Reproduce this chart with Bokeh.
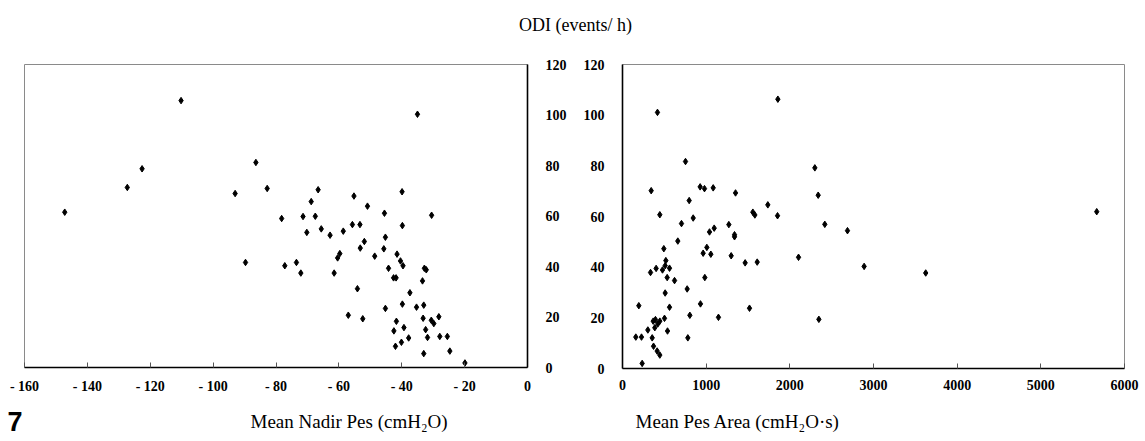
from bokeh.plotting import figure
from bokeh.layouts import column, row
from bokeh.models import Range1d, FixedTicker, Label
from bokeh.embed import file_html
from bokeh.resources import INLINE

# ---- data ----
nadir_pes = [-147.2, -127.3, -122.6, -110.2, -93.0, -86.4, -89.7, -82.8, -78.2, -77.2,
             -73.5, -72.1, -71.4, -70.2, -68.8, -67.5, -66.6, -65.6, -62.8, -61.5,
             -60.4, -59.7, -58.6, -57.0, -55.7, -55.2, -54.1, -53.3, -53.2, -52.4,
             -51.9, -50.9, -48.6, -45.7, -45.5, -45.2, -45.2, -44.2, -42.5, -42.6,
             -41.8, -42.0, -41.7, -41.5, -40.4, -40.1, -39.9, -39.8, -39.6, -39.8,
             -39.3, -37.8, -37.4, -35.3, -35.0, -33.4, -33.0, -33.2, -33.0, -32.8,
             -32.2, -32.4, -31.8, -30.5, -30.6, -29.8, -28.2, -27.9, -25.5, -24.7,
             -19.9]
odi_nadir = [61.5, 71.3, 78.7, 105.7, 68.9, 81.2, 41.6, 70.9, 59.0, 40.3,
             41.6, 37.4, 59.8, 53.5, 65.7, 59.9, 70.4, 54.9, 52.4, 37.4,
             43.4, 45.1, 54.0, 20.7, 56.6, 67.9, 31.2, 56.6, 47.3, 19.3,
             49.9, 63.9, 44.1, 47.0, 61.1, 51.6, 23.4, 39.3, 14.5, 35.5,
             35.5, 8.4, 18.3, 44.9, 42.2, 10.0, 69.6, 56.2, 40.3, 25.1,
             15.8, 11.7, 29.6, 23.9, 100.3, 34.3, 24.7, 19.5, 5.5, 39.3,
             38.7, 15.0, 11.9, 60.3, 18.7, 17.4, 20.1, 12.3, 12.3, 6.5,
             1.8]

pes_area = [159, 227, 195, 235, 303, 335, 343, 355, 367, 371,
            386, 394, 402, 418, 414, 422, 446, 446, 446, 478,
            494, 502, 510, 518, 510, 534, 538, 562, 562, 622,
            661, 705, 753, 773, 781, 797, 805, 845, 928, 932,
            964, 980, 984, 1008, 1040, 1056, 1084, 1096, 1147, 1271,
            1299, 1339, 1339, 1351, 1466, 1518, 1558, 1582, 1610, 1737,
            1853, 1857, 2104, 2299, 2339, 2347, 2418, 2689, 2888, 3624,
            5668]
odi_area = [12.4, 12.4, 24.8, 2.0, 15.2, 37.9, 70.2, 12.1, 18.7, 8.8,
            16.1, 19.3, 39.5, 101.1, 6.9, 17.6, 18.7, 60.7, 5.3, 38.9,
            47.3, 19.8, 29.8, 42.6, 40.6, 35.9, 14.8, 39.6, 24.2, 34.7,
            50.3, 57.2, 81.7, 31.4, 12.1, 66.3, 21.0, 59.4, 71.7, 25.5,
            45.5, 71.0, 35.9, 47.8, 53.9, 45.1, 71.3, 55.4, 20.2, 56.8,
            44.5, 52.8, 52.0, 69.3, 41.7, 23.8, 61.7, 60.6, 42.0, 64.6,
            60.3, 106.3, 43.9, 79.2, 68.4, 19.4, 56.9, 54.4, 40.3, 37.7,
            61.9]

x1_ticks = [-160, -140, -120, -100, -80, -60, -40, -20, 0]
x2_ticks = [0, 1000, 2000, 3000, 4000, 5000, 6000]
y_ticks = [0, 20, 40, 60, 80, 100, 120]
x1_tick_labels = {t: ("- %d" % -t if t < 0 else str(t)) for t in x1_ticks}

title_text = "ODI (events/ h)"
xlabel1 = "Mean Nadir Pes (cmH\u2082O)"
xlabel2 = "Mean Pes Area (cmH\u2082O\u00b7s)"
panel_no = "7"

SERIF = "Liberation Serif"


def style(p):
    p.grid.visible = False
    p.outline_line_color = "#8a8a8a"
    p.outline_line_width = 1
    for ax in p.axis:
        ax.axis_line_color = "black"
        ax.axis_line_width = 1.6
        ax.major_label_text_font = SERIF
        ax.major_label_text_font_style = "bold"
        ax.major_label_text_font_size = "14px"
        ax.major_label_text_color = "black"
        ax.minor_tick_line_color = None
    for ax in p.xaxis:
        ax.major_tick_in = 5
        ax.major_tick_out = 0
        ax.major_tick_line_color = "#555555"
        ax.major_label_standoff = 11
    for ax in p.yaxis:
        ax.major_tick_line_color = None
        ax.major_label_standoff = 12
    p.background_fill_color = "white"
    p.border_fill_color = "white"


def strip(height):
    s = figure(width=1145, height=height, x_range=Range1d(0, 1145), y_range=Range1d(0, height),
               min_border=0, toolbar_location=None, output_backend="svg")
    s.axis.visible = False
    s.grid.visible = False
    s.outline_line_color = None
    return s


# ---- title strip ----
top = strip(40)
top.add_layout(Label(x=575, y=16, text=title_text, text_align="center",
                     text_baseline="middle", text_font=SERIF,
                     text_font_size="18px", text_color="black"))

# ---- left panel ----
p1 = figure(frame_width=503, frame_height=303,
            x_range=Range1d(-160, 0), y_range=Range1d(0, 120),
            y_axis_location="right",
            min_border_left=24, min_border_right=48,
            min_border_top=24, min_border_bottom=33,
            toolbar_location=None, output_backend="svg")
p1.scatter(nadir_pes, odi_nadir, marker="diamond", size=6.5, color="black")
p1.xaxis.ticker = FixedTicker(ticks=x1_ticks)
p1.xaxis.major_label_overrides = x1_tick_labels
p1.yaxis.ticker = FixedTicker(ticks=y_ticks)
style(p1)

# ---- right panel ----
p2 = figure(frame_width=502, frame_height=304,
            x_range=Range1d(0, 6000), y_range=Range1d(0, 120),
            min_border_left=47, min_border_right=21,
            min_border_top=22, min_border_bottom=34,
            toolbar_location=None, output_backend="svg")
p2.scatter(pes_area, odi_area, marker="diamond", size=6.5, color="black")
p2.xaxis.ticker = FixedTicker(ticks=x2_ticks)
p2.yaxis.ticker = FixedTicker(ticks=y_ticks)
style(p2)

# ---- bottom strip: panel number and axis titles ----
bottom = strip(41)
bottom.add_layout(Label(x=7, y=20, text=panel_no, text_font="Liberation Sans",
                        text_font_style="bold", text_font_size="27px",
                        text_baseline="middle", text_color="black"))
bottom.add_layout(Label(x=250, y=20, text=xlabel1, text_font=SERIF, text_font_size="19px",
                        text_baseline="middle", text_color="black"))
bottom.add_layout(Label(x=635, y=20, text=xlabel2, text_font=SERIF, text_font_size="19px",
                        text_baseline="middle", text_color="black"))

layout = column(top, row(p1, p2, spacing=0), bottom, spacing=0)
open("out.html", "w").write(file_html(layout, INLINE))
